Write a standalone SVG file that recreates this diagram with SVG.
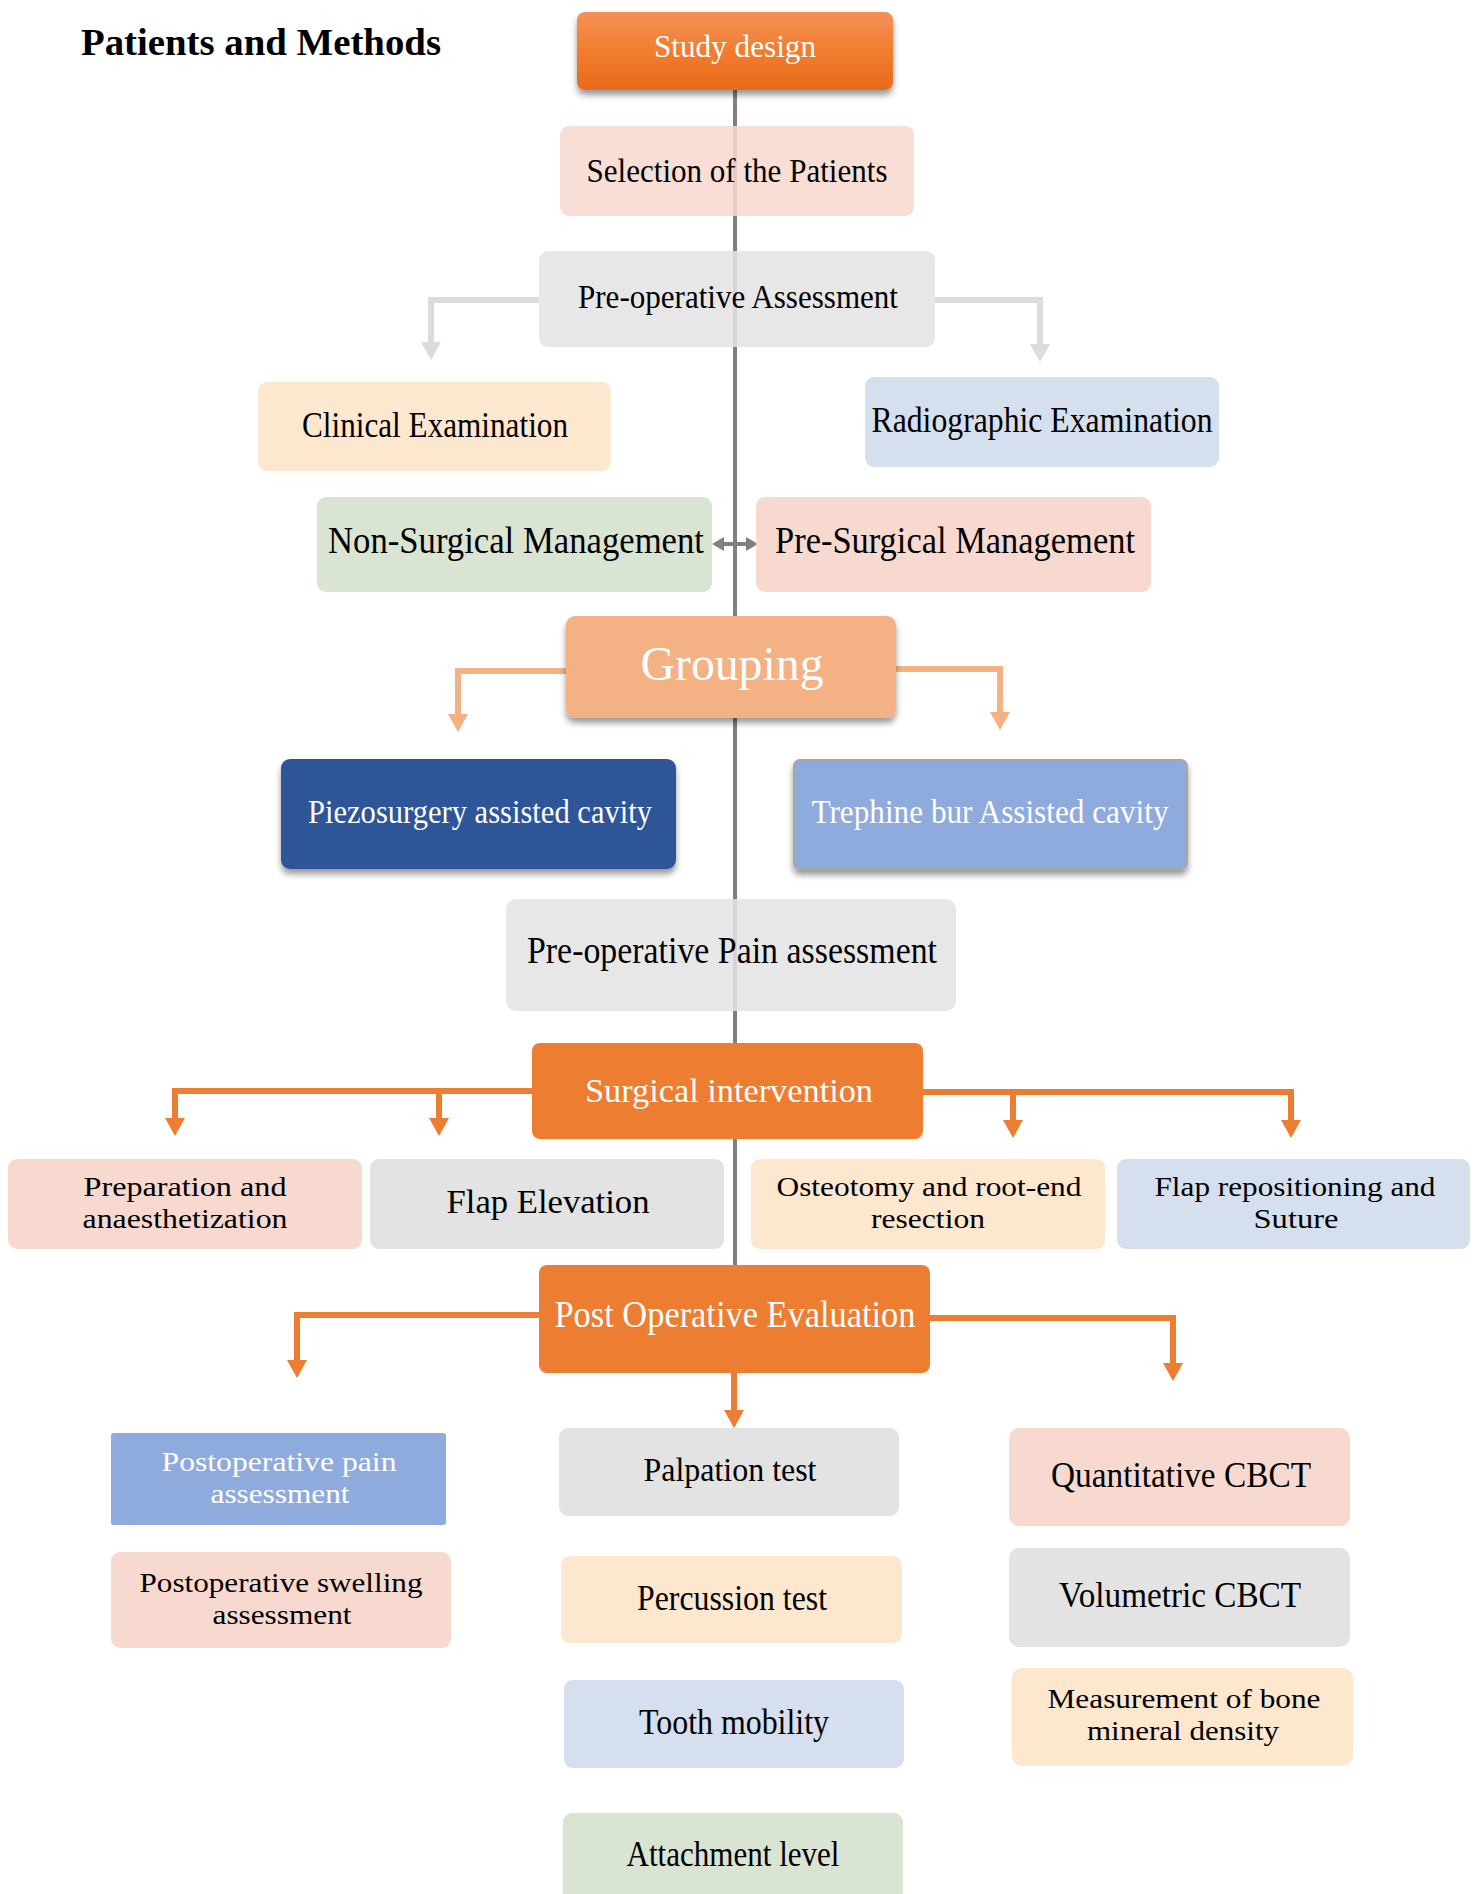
<svg xmlns="http://www.w3.org/2000/svg" width="1481" height="1894" viewBox="0 0 1481 1894">
<style>
text{font-family:"Liberation Serif","Times New Roman",serif;text-anchor:middle;fill:#000}
.w{fill:#fff}
.title{font-weight:bold;text-anchor:start}
.pink{fill:#F8D9CF}
.grey{fill:#E3E3E3}
.lor{fill:#FEE7CF}
.lbl{fill:#D5DFEE}
.grn{fill:#D9E4D3}
.org{fill:#ED7D31}
.faint{fill-opacity:0.86}
.c{fill:none;stroke-width:6}
.two{font-size:28px}
</style>
<defs>
<linearGradient id="gStudy" x1="0" y1="0" x2="0" y2="1">
<stop offset="0" stop-color="#F39159"/>
<stop offset="0.5" stop-color="#F27D2E"/>
<stop offset="1" stop-color="#E86A1C"/>
</linearGradient>
<filter id="sh" x="-10%" y="-10%" width="120%" height="140%">
<feDropShadow dx="0" dy="5" stdDeviation="3" flood-color="#000" flood-opacity="0.4"/>
</filter>
<marker id="aGrey" viewBox="0 0 18 20" refX="8" refY="10" markerWidth="18" markerHeight="20" orient="auto" markerUnits="userSpaceOnUse"><path d="M0,0 L18,10 L0,20 Z" fill="#DCDCDC"/></marker>
<marker id="aPeach" viewBox="0 0 18 20" refX="8" refY="10" markerWidth="18" markerHeight="20" orient="auto" markerUnits="userSpaceOnUse"><path d="M0,0 L18,10 L0,20 Z" fill="#F4B183"/></marker>
<marker id="aOrg" viewBox="0 0 18 20" refX="8" refY="10" markerWidth="18" markerHeight="20" orient="auto" markerUnits="userSpaceOnUse"><path d="M0,0 L18,10 L0,20 Z" fill="#ED7D31"/></marker>
<marker id="aDk" viewBox="0 0 12 14" refX="6" refY="7" markerWidth="12" markerHeight="14" orient="auto-start-reverse" markerUnits="userSpaceOnUse"><path d="M0,0 L12,7 L0,14 Z" fill="#7F7F7F"/></marker>
</defs>
<rect width="1481" height="1894" fill="#fff"/>
<text class="title" x="81" y="55" font-size="38" textLength="360" lengthAdjust="spacingAndGlyphs">Patients and Methods</text>

<g id="connectors">
<path d="M735,89 V616 M735,718 V1043 M735,1139 V1265" fill="none" stroke="#7F7F7F" stroke-width="4"/>
<path class="c" d="M539,300 H431 V350" stroke="#DCDCDC" marker-end="url(#aGrey)"/>
<path class="c" d="M935,300 H1040 V352" stroke="#DCDCDC" marker-end="url(#aGrey)"/>
<path d="M718,544 H752" fill="none" stroke="#7F7F7F" stroke-width="4" marker-start="url(#aDk)" marker-end="url(#aDk)"/>
<path class="c" d="M566,671 H458 V722" stroke="#F4B183" marker-end="url(#aPeach)"/>
<path class="c" d="M896,669 H1000 V720" stroke="#F4B183" marker-end="url(#aPeach)"/>
<path class="c" d="M532,1091 H175 V1126" stroke="#ED7D31" marker-end="url(#aOrg)"/>
<path class="c" d="M439,1091 V1126" stroke="#ED7D31" marker-end="url(#aOrg)"/>
<path class="c" d="M923,1092 H1291 V1128" stroke="#ED7D31" marker-end="url(#aOrg)"/>
<path class="c" d="M1013,1092 V1128" stroke="#ED7D31" marker-end="url(#aOrg)"/>
<path class="c" d="M539,1315 H297 V1368" stroke="#ED7D31" marker-end="url(#aOrg)"/>
<path class="c" d="M930,1318 H1173 V1371" stroke="#ED7D31" marker-end="url(#aOrg)"/>
<path class="c" d="M734,1373 V1418" stroke="#ED7D31" marker-end="url(#aOrg)"/>
</g>

<g id="study-design">
<rect x="577" y="12" width="316" height="78" rx="8" fill="url(#gStudy)" filter="url(#sh)"/>
<text class="w" x="735" y="57" font-size="32" textLength="162" lengthAdjust="spacingAndGlyphs">Study design</text>
</g>
<g id="selection">
<rect class="pink faint" x="560" y="126" width="354" height="90" rx="9"/>
<text x="737" y="182" font-size="34" textLength="301" lengthAdjust="spacingAndGlyphs">Selection of the Patients</text>
</g>
<g id="preop-assessment">
<rect class="grey faint" x="539" y="251" width="396" height="96" rx="9"/>
<text x="738" y="308" font-size="33" textLength="320" lengthAdjust="spacingAndGlyphs">Pre-operative Assessment</text>
</g>
<g id="clinical">
<rect class="lor" x="258" y="382" width="353" height="89" rx="9"/>
<text x="435" y="437" font-size="35" textLength="266" lengthAdjust="spacingAndGlyphs">Clinical Examination</text>
</g>
<g id="radiographic">
<rect class="lbl" x="865" y="377" width="354" height="90" rx="9"/>
<text x="1042" y="432" font-size="35" textLength="341" lengthAdjust="spacingAndGlyphs">Radiographic Examination</text>
</g>
<g id="non-surgical">
<rect class="grn" x="317" y="497" width="395" height="95" rx="9"/>
<text x="516" y="553" font-size="38" textLength="376" lengthAdjust="spacingAndGlyphs">Non-Surgical Management</text>
</g>
<g id="pre-surgical">
<rect class="pink" x="756" y="497" width="395" height="95" rx="9"/>
<text x="955" y="553" font-size="38" textLength="360" lengthAdjust="spacingAndGlyphs">Pre-Surgical Management</text>
</g>
<g id="grouping">
<rect x="566" y="616" width="330" height="102" rx="9" fill="#F4B183" filter="url(#sh)"/>
<text class="w" x="732" y="680" font-size="48" textLength="183" lengthAdjust="spacingAndGlyphs">Grouping</text>
</g>
<g id="piezo">
<rect x="281" y="759" width="395" height="110" rx="9" fill="#2F5597" filter="url(#sh)"/>
<text class="w" x="480" y="823" font-size="33" textLength="344" lengthAdjust="spacingAndGlyphs">Piezosurgery assisted cavity</text>
</g>
<g id="trephine">
<rect x="794" y="760" width="393" height="109" rx="6" fill="#8FAADC" stroke="#A6A6A6" stroke-width="2" filter="url(#sh)"/>
<text class="w" x="990" y="823" font-size="33" textLength="357" lengthAdjust="spacingAndGlyphs">Trephine bur Assisted cavity</text>
</g>
<g id="preop-pain">
<rect class="grey faint" x="506" y="899" width="450" height="112" rx="10"/>
<text x="732" y="963" font-size="37" textLength="410" lengthAdjust="spacingAndGlyphs">Pre-operative Pain assessment</text>
</g>
<g id="surgical">
<rect class="org" x="532" y="1043" width="391" height="96" rx="8"/>
<text class="w" x="729" y="1102" font-size="34" textLength="288" lengthAdjust="spacingAndGlyphs">Surgical intervention</text>
</g>
<g id="preparation">
<rect class="pink" x="8" y="1159" width="354" height="90" rx="9"/>
<text class="two" x="185" y="1196" textLength="203" lengthAdjust="spacingAndGlyphs">Preparation and</text>
<text class="two" x="185" y="1228" textLength="205" lengthAdjust="spacingAndGlyphs">anaesthetization</text>
</g>
<g id="flap-elevation">
<rect class="grey" x="370" y="1159" width="354" height="90" rx="9"/>
<text x="548" y="1213" font-size="33" textLength="203" lengthAdjust="spacingAndGlyphs">Flap Elevation</text>
</g>
<g id="osteotomy">
<rect class="lor" x="751" y="1159" width="354" height="90" rx="9"/>
<text class="two" x="929" y="1196" textLength="305" lengthAdjust="spacingAndGlyphs">Osteotomy and root-end</text>
<text class="two" x="928" y="1228" textLength="114" lengthAdjust="spacingAndGlyphs">resection</text>
</g>
<g id="flap-repositioning">
<rect class="lbl" x="1117" y="1159" width="353" height="90" rx="9"/>
<text class="two" x="1295" y="1196" textLength="281" lengthAdjust="spacingAndGlyphs">Flap repositioning and</text>
<text class="two" x="1296" y="1228" textLength="85" lengthAdjust="spacingAndGlyphs">Suture</text>
</g>
<g id="post-op">
<rect class="org" x="539" y="1265" width="391" height="108" rx="8"/>
<text class="w" x="735" y="1327" font-size="38" textLength="361" lengthAdjust="spacingAndGlyphs">Post Operative Evaluation</text>
</g>
<g id="postop-pain">
<rect x="111" y="1433" width="335" height="92" rx="3" fill="#8FAADC"/>
<text class="w two" x="279" y="1471" textLength="235" lengthAdjust="spacingAndGlyphs">Postoperative pain</text>
<text class="w two" x="280" y="1503" textLength="139" lengthAdjust="spacingAndGlyphs">assessment</text>
</g>
<g id="postop-swelling">
<rect class="pink" x="111" y="1552" width="340" height="96" rx="9"/>
<text class="two" x="281" y="1592" textLength="283" lengthAdjust="spacingAndGlyphs">Postoperative swelling</text>
<text class="two" x="282" y="1624" textLength="139" lengthAdjust="spacingAndGlyphs">assessment</text>
</g>
<g id="palpation">
<rect class="grey" x="559" y="1428" width="340" height="88" rx="9"/>
<text x="730" y="1481" font-size="33" textLength="173" lengthAdjust="spacingAndGlyphs">Palpation test</text>
</g>
<g id="percussion">
<rect class="lor" x="561" y="1556" width="341" height="87" rx="9"/>
<text x="732" y="1610" font-size="35" textLength="190" lengthAdjust="spacingAndGlyphs">Percussion test</text>
</g>
<g id="tooth-mobility">
<rect class="lbl" x="564" y="1680" width="340" height="88" rx="9"/>
<text x="734" y="1734" font-size="35" textLength="190" lengthAdjust="spacingAndGlyphs">Tooth mobility</text>
</g>
<g id="attachment">
<rect class="grn" x="563" y="1813" width="340" height="100" rx="9"/>
<text x="733" y="1866" font-size="35" textLength="213" lengthAdjust="spacingAndGlyphs">Attachment level</text>
</g>
<g id="quantitative">
<rect class="pink" x="1009" y="1428" width="341" height="98" rx="10"/>
<text x="1181" y="1487" font-size="35" textLength="260" lengthAdjust="spacingAndGlyphs">Quantitative CBCT</text>
</g>
<g id="volumetric">
<rect class="grey" x="1009" y="1548" width="341" height="99" rx="10"/>
<text x="1180" y="1607" font-size="35" textLength="242" lengthAdjust="spacingAndGlyphs">Volumetric CBCT</text>
</g>
<g id="bone-density">
<rect class="lor" x="1012" y="1668" width="341" height="98" rx="10"/>
<text class="two" x="1184" y="1708" textLength="273" lengthAdjust="spacingAndGlyphs">Measurement of bone</text>
<text class="two" x="1183" y="1740" textLength="192" lengthAdjust="spacingAndGlyphs">mineral density</text>
</g>
</svg>
